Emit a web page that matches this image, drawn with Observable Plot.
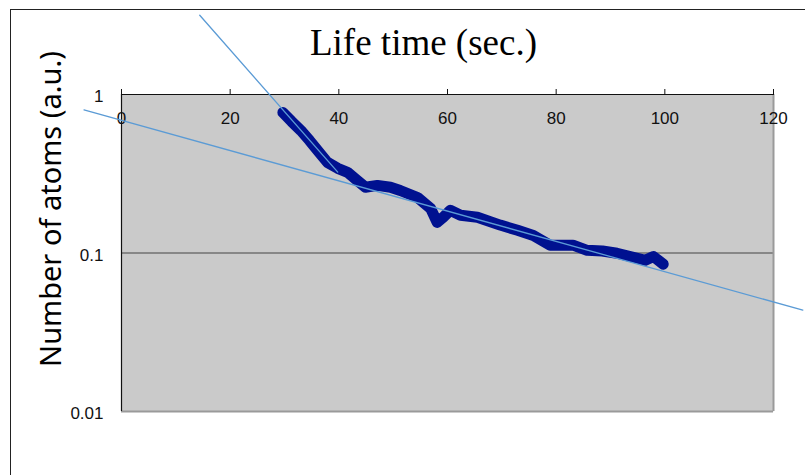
<!DOCTYPE html>
<html>
<head>
<meta charset="utf-8">
<script src="https://cdn.jsdelivr.net/npm/d3@7"></script>
<script src="https://cdn.jsdelivr.net/npm/@observablehq/plot@0.6"></script>
<style>
  html, body { margin: 0; padding: 0; background: #fff; }
  #wrap { position: relative; width: 805px; height: 475px; overflow: hidden; }
  #wrap svg { position: absolute; left: 0; top: 0; }
  #outer { position: absolute; left: 10px; top: 9px; width: 820px; height: 500px;
           border-left: 1.5px solid #222; border-top: 1.5px solid #222; pointer-events: none; }
</style>
</head>
<body>
<div id="wrap"><div id="outer"></div></div>
<script>
// Measured series (time in seconds, relative number of atoms)
const times = [29.7, 31.3, 33.0, 34.6, 36.1, 37.9, 39.8, 41.6, 43.4, 44.9, 47.1, 49.5, 51.3, 54.5, 56.9, 58.1, 59.2, 60.5, 62.4, 65.5, 69.7, 72.9, 75.8, 78.9, 83.1, 85.7, 88.5, 91.2, 94.2, 96.4, 97.9, 99.7];
const atoms = [0.770, 0.676, 0.593, 0.513, 0.444, 0.373, 0.342, 0.323, 0.287, 0.260, 0.267, 0.260, 0.248, 0.224, 0.191, 0.156, 0.168, 0.186, 0.173, 0.168, 0.150, 0.139, 0.129, 0.112, 0.112, 0.104, 0.103, 0.0996, 0.094, 0.090, 0.095, 0.085];

// Fitted exponential trend lines (end points)
const fastFitT = [14.4, 39.8];
const fastFitV = [3.16, 0.324];
const slowFitT = [-6.9, 125.4];
const slowFitV = [0.80, 0.0436];

// Axis ticks
const xTicks = [0, 20, 40, 60, 80, 100, 120];
const yTicks = [1, 0.1, 0.01];
const yTickLabels = ["1", "0.1", "0.01"];

const title = "Life time (sec.)";
const yTitle = "Number of atoms (a.u.)";

const series = times.map((t, i) => ({t, v: atoms[i]}));
const fastFit = fastFitT.map((t, i) => ({t, v: fastFitV[i]}));
const slowFit = slowFitT.map((t, i) => ({t, v: slowFitV[i]}));

const chart = Plot.plot({
  width: 805,
  height: 475,
  marginTop: 94,
  marginLeft: 121,
  marginRight: 32,
  marginBottom: 64,
  style: {background: "transparent", overflow: "visible", fontFamily: "Liberation Sans, Arial, sans-serif"},
  x: {domain: [0, 120]},
  y: {type: "log", domain: [0.01, 1]},
  marks: [
    Plot.frame({fill: "#cacaca", stroke: null}),
    Plot.ruleY([0.1], {stroke: "#707070", strokeWidth: 1.6}),
    Plot.ruleX([120], {stroke: "#9a9a9a", strokeWidth: 2}),
    Plot.ruleY([0.01], {stroke: "#9a9a9a", strokeWidth: 2}),
    Plot.ruleX([0], {stroke: "#111", strokeWidth: 1.2}),
    Plot.ruleY([1], {stroke: "#111", strokeWidth: 1.2}),
    Plot.axisX({anchor: "top", ticks: xTicks, tickSize: 6, tickFormat: () => "", label: null, stroke: "#111"}),
    Plot.text(xTicks, {x: d => d, frameAnchor: "top", lineAnchor: "middle", dy: 24, text: d => String(d), fontSize: 17, fill: "#111"}),
    Plot.axisY({ticks: yTicks, tickSize: 0, tickPadding: 18, dy: 2.5, tickFormat: d => yTickLabels[yTicks.indexOf(d)], label: null, fontSize: 17, fill: "#111"}),
    Plot.line(series, {x: "t", y: "v", stroke: "#001190", strokeWidth: 11, strokeLinejoin: "round", strokeLinecap: "round"}),
    Plot.line(fastFit, {x: "t", y: "v", stroke: "#5b9bd5", strokeWidth: 1.3}),
    Plot.line(slowFit, {x: "t", y: "v", stroke: "#5b9bd5", strokeWidth: 1.3}),
    Plot.text([title], {frameAnchor: "top", lineAnchor: "middle", dx: -24, dy: -51, text: d => d, fontSize: 37, fontFamily: "Liberation Serif, Times New Roman, serif", fill: "#000"}),
    Plot.text([yTitle], {frameAnchor: "left", textAnchor: "middle", lineAnchor: "middle", rotate: -90, dx: -70, dy: -44, text: d => d, fontSize: 29, fontFamily: "Noto Sans, sans-serif", fill: "#000"})
  ]
});
document.getElementById("wrap").insertBefore(chart, document.getElementById("outer"));
</script>
</body>
</html>
